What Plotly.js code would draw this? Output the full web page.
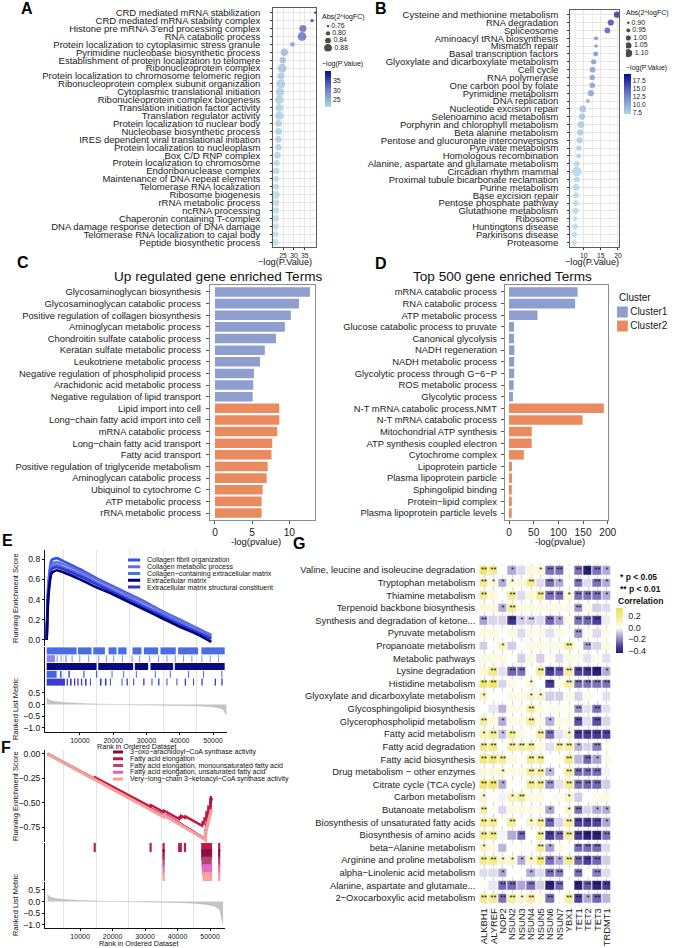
<!DOCTYPE html>
<html><head><meta charset="utf-8">
<script src="https://cdn.plot.ly/plotly-3.0.1.min.js"></script>
<style>body{margin:0;background:#fff}#chart{width:674px;height:948px}</style>
</head><body><div id="chart"></div>
<script>
// ---------------- Panel A data ----------------
const termsA = ['CRD mediated mRNA stabilization','CRD mediated mRNA stability complex','Histone pre mRNA 3’end processing complex','RNA catabolic process','Protein localization to cytoplasimic stress granule','Pyrimidine nucleobase biosynthetic process','Establishment of protein localization to telomere','Ribonucleoprotein complex','Protein localization to chromosome telomeric region','Ribonucleoprotein complex subunit organization','Cytoplasmic translational initiation','Ribonucleoprotein complex biogenesis','Translation initiation factor activity','Translation regulator activity','Protein localization to nuclear body','Nucleobase biosynthetic process','IRES dependent viral translational initiation','Protein localization to nucleoplasm','Box C/D RNP complex','Protein localization to chromosome','Endoribonuclease complex','Maintenance of DNA repeat elements','Telomerase RNA localization','Ribosome biogenesis','rRNA metabolic process','ncRNA processing','Chaperonin containing T-complex','DNA damage response detection of DNA damage','Telomerase RNA localization to cajal body','Peptide biosynthetic process'];
const logPA = [39.8,38.3,34.1,33.7,29.3,25.6,24.9,24.6,24.1,24.0,23.6,23.3,23.3,23.3,23.0,23.0,22.9,22.9,22.4,22.1,21.9,21.8,21.8,21.7,21.7,21.6,21.5,21.5,21.4,21.3];
const fcA = [0.74,0.76,0.84,0.88,0.79,0.85,0.83,0.88,0.84,0.88,0.86,0.87,0.85,0.87,0.84,0.84,0.83,0.83,0.84,0.82,0.83,0.82,0.83,0.86,0.84,0.83,0.84,0.83,0.82,0.84];
const sizeLegA = [0.76,0.80,0.84,0.88];
// ---------------- Panel B data ----------------
const termsB = ['Cysteine and methionine metabolism','RNA degradation','Spliceosome','Aminoacyl tRNA biosynthesis','Mismatch repair','Basal transcription factors','Glyoxylate and dicarboxylate metabolism','Cell cycle','RNA polymerase','One carbon pool by folate','Pyrimidine metabolism','DNA replication','Nucleotide excision repair','Selenoamino acid metabolism','Porphyrin and chlorophyll metabolism','Beta alanine metabolism','Pentose and glucuronate interconversions','Pyruvate metabolism','Homologous recombination','Alanine, aspartate and glutamate metabolism','Circadian rhythm mammal','Proximal tubule bicarbonate reclamation','Purine metabolism','Base excision repair','Pentose phosphate pathway','Glutathione metabolism','Ribosome','Huntingtons disease','Parkinsons disease','Proteasome'];
const logPB = [19.7,17.9,16.9,13.6,13.6,13.5,12.9,12.6,12.5,12.5,12.1,11.2,9.7,9.5,9.2,9.0,8.8,8.6,8.5,8.0,8.0,8.0,7.8,7.8,7.7,7.6,7.5,7.5,7.3,7.2];
const fcB = [1.0,1.0,0.98,0.92,0.90,0.95,0.96,0.98,0.97,0.98,1.0,0.92,1.02,1.0,1.02,1.0,1.0,0.97,0.95,0.98,1.12,0.98,1.02,0.98,0.98,1.0,0.93,0.98,0.96,0.96];
const sizeLegB = [0.90,0.95,1.00,1.05,1.10];
// ---------------- Panel C data ----------------
const termsC = ['Glycosaminoglycan biosynthesis','Glycosaminoglycan catabolic process','Positive regulation of collagen biosynthesis','Aminoglycan metabolic process','Chondroitin sulfate catabolic process','Keratan sulfate metabolic process','Leukotriene metabolic process','Negative regulation of phospholipid process','Arachidonic acid metabolic process','Negative regulation of lipid transport','Lipid import into cell','Long−chain fatty acid import into cell','mRNA catabolic process','Long−chain fatty acid transport','Fatty acid transport','Positive regulation of triglyceride metabolism','Aminoglycan catabolic process','Ubiquinol to cytochrome C','ATP metabolic process','rRNA metabolic process'];
const valuesC = [12.77,11.3,10.2,9.4,8.2,6.7,6.05,5.24,5.15,5.07,8.65,8.65,8.38,7.7,7.6,7.08,6.95,6.4,6.27,6.27];
const clusterC = ['Cluster1','Cluster1','Cluster1','Cluster1','Cluster1','Cluster1','Cluster1','Cluster1','Cluster1','Cluster1','Cluster2','Cluster2','Cluster2','Cluster2','Cluster2','Cluster2','Cluster2','Cluster2','Cluster2','Cluster2'];
// ---------------- Panel D data ----------------
const termsD = ['mRNA catabolic process','RNA catabolic process','ATP metabolic process','Glucose catabolic process to pruvate','Canonical glycolysis','NADH regeneration','NADH metabolic process','Glycolytic process through G−6−P','ROS metabolic process','Glycolytic process','N-T mRNA catabolic process,NMT','N-T mRNA catabolic process','Mitochondrial ATP synthesis','ATP synthesis coupled electron','Cytochrome complex','Lipoprotein particle','Plasma lipoprotein particle','Sphingolipid binding','Protein−lipid complex','Plasma lipoprotein particle levels'];
const valuesD = [139,134,57.7,10.2,10,10.9,10.5,10.5,9.5,8,192,149,46,46,30,6,6,5.7,5.7,5.5];
const clusterD = ['Cluster1','Cluster1','Cluster1','Cluster1','Cluster1','Cluster1','Cluster1','Cluster1','Cluster1','Cluster1','Cluster2','Cluster2','Cluster2','Cluster2','Cluster2','Cluster2','Cluster2','Cluster2','Cluster2','Cluster2'];
const clusters = ['Cluster1','Cluster2'];
// ---------------- Panel E data ----------------
const namesE = ['Collagen fibril organization','Collagen metabolic process','Collagen−containing extracellular matrix','Extracellular matrix','Extracellular matrix structural constituent'];
const rankE = [0,500,1500,3000,5000,10000,15000,20000,25000,30000,35000,40000,45000,49500];
const esE1 = [0.0,0.55,0.79,0.81,0.78,0.70,0.61,0.53,0.45,0.37,0.28,0.20,0.12,0.04];
const esE2 = [0.0,0.50,0.75,0.77,0.75,0.68,0.60,0.52,0.44,0.36,0.28,0.20,0.12,0.05];
const esE3 = [0.0,0.47,0.72,0.74,0.72,0.65,0.57,0.49,0.41,0.33,0.25,0.17,0.09,0.02];
const esE4 = [0.0,0.42,0.66,0.69,0.67,0.60,0.52,0.45,0.37,0.29,0.21,0.13,0.06,-0.02];
const esE5 = [0.0,0.45,0.70,0.72,0.70,0.63,0.55,0.47,0.39,0.31,0.23,0.15,0.08,0.01];
const hitsE1 = [[0,9000],[9400,13500],[14000,17500],[18600,21000],[21500,24000],[25800,28500],[29200,33500],[34200,38800],[39500,45500],[46500,53500]];
const hitsE2 = [[0,2500],[3000,3300],[4200,4500],[5600,6000],[7500,7800],[9800,10100],[12500,12800],[15500,15800],[17800,18100],[20000,20300],[22600,22900],[25500,25800],[27800,28100],[30800,31100],[33500,33800],[36000,36300],[38500,38800],[41000,41300],[43500,43800],[46500,46800],[49000,49300],[51500,51800]];
const hitsE3 = [[0,3000],[4000,4500],[6500,7000],[11000,11400],[14800,15200],[19500,19800],[23000,23300],[26800,27100],[32500,32800],[37000,37300],[42500,42800],[47000,47300],[52500,52800]];
const hitsE4 = [[0,15000],[15500,26000],[26500,30500],[31200,38000],[38500,53500]];
const hitsE5 = [[0,5500],[6000,6400],[7000,7500],[8200,8600],[9200,9600],[10300,10700],[11500,12000],[13000,13300],[16000,16500],[17500,18000],[19000,19300],[22500,22800],[24000,24400],[26000,26300],[29000,29400],[31500,31800],[33500,33900],[36000,36300],[39000,39300],[41500,41900],[44000,44300],[46500,46900],[50500,50900],[52500,52900]];
const metricRank = [0,300,1000,2500,5000,8000,12000,17000,25000,33000,40000,45000,49000,51500,53000,54000];
const metricE = [0.32,0.24,0.18,0.13,0.09,0.06,0.035,0.015,0.0,-0.015,-0.03,-0.05,-0.08,-0.13,-0.2,-0.45];
// ---------------- Panel F data ----------------
const namesF = ['3−oxo−arachidoyl−CoA synthase activity','Fatty acid elongation','Fatty acid elongation, monounsaturated fatty acid','Fatty acid elongation, unsaturated fatty acid','Very−long−chain 3−ketoacyl−CoA synthase activity'];
const rankF1 = [0,36500,36600,48600,48700,49500,50300,50500];
const esF1 = [0,-0.64,-0.625,-0.87,-0.77,-0.62,-0.47,-0.45];
const rankF2 = [0,14500,14600,31700,31800,35700,35800,40500,40600,41000,41100,42300,42400,47600,47700,48200,48300,48800,48900,49400,49500,50000,50100,50300];
const esF2 = [0,-0.262,-0.240,-0.540,-0.522,-0.594,-0.578,-0.665,-0.645,-0.652,-0.632,-0.654,-0.638,-0.735,-0.70,-0.71,-0.66,-0.67,-0.60,-0.61,-0.54,-0.55,-0.46,-0.43];
const rankF3 = [0,36500,36600,48600,48700,49500,50300];
const esF3 = [0,-0.645,-0.63,-0.875,-0.78,-0.65,-0.52];
const rankF4 = [0,36500,36600,48600,48700,49500,50300];
const esF4 = [0,-0.645,-0.63,-0.878,-0.79,-0.67,-0.55];
const rankF5 = [0,35700,35800,48600,48700,49300,49900,50400];
const esF5 = [0,-0.643,-0.628,-0.875,-0.80,-0.72,-0.64,-0.57];
const hitsF1 = [14500,31700,35700,40500,41000,42300,47600,47900,48200,48500,48800,49100,49400,49700,50000,50300,52800];
const hitsF2 = [35700,47600,48000,48400,48800,49200,49600,50000,50300,52800];
const hitsF3 = [35700,47700,48100,48600,49000,49400,49800,50200,52800];
const hitsF4 = [35700,47800,48300,48800,49300,49800,50300,52800];
const hitsF5 = [35700,48000,48600,49200,49800,50300,52800];
const metricF = [0.33,0.25,0.18,0.13,0.09,0.06,0.035,0.015,0.0,-0.02,-0.04,-0.07,-0.12,-0.2,-0.35,-1.0];
const rankTicks = [10000,20000,30000,40000,50000];
// ---------------- Panel G data ----------------
const rowsG = ['Valine, leucine and isoleucine degradation','Tryptophan metabolism','Thiamine metabolism','Terpenoid backbone biosynthesis','Synthesis and degradation of ketone...','Pyruvate metabolism','Propanoate metabolism','Metabolic pathways','Lysine degradation','Histidine metabolism','Glyoxylate and dicarboxylate metabolism','Glycosphingolipid biosynthesis','Glycerophospholipid metabolism','Fatty acid metabolism','Fatty acid degradation','Fatty acid biosynthesis','Drug metabolism − other enzymes','Citrate cycle (TCA cycle)','Carbon metabolism','Butanoate metabolism','Biosynthesis of unsaturated fatty acids','Biosynthesis of amino acids','beta−Alanine metabolism','Arginine and proline metabolism','alpha−Linolenic acid metabolism','Alanine, aspartate and glutamate...','2−Oxocarboxylic acid metabolism'];
const colsG = ['ALKBH1','ALYREF','NOP2','NSUN2','NSUN3','NSUN4','NSUN5','NSUN6','NSUN7','YBX1','TET1','TET2','TET3','TRDMT1'];
const corrG = [
 [0.28,0.18,0,-0.14,-0.06,0.06,0.06,-0.24,-0.24,0,-0.24,-0.43,-0.24,-0.14],
 [0.18,0.06,-0.14,0.06,0.06,0.18,-0.06,-0.24,-0.14,0,-0.24,-0.06,-0.24,-0.14],
 [0.18,0.06,0,0.18,-0.06,0.06,0.18,-0.24,-0.24,0.06,-0.24,-0.24,-0.24,-0.14],
 [0.06,0.06,-0.14,0.18,0.04,0.04,0.04,0.04,0.04,0.04,-0.17,0.04,-0.08,-0.06],
 [-0.16,-0.07,-0.07,-0.36,-0.08,-0.08,-0.06,-0.26,-0.16,0.04,-0.24,-0.26,-0.33,-0.03],
 [0.05,0.05,0.01,0.05,-0.06,0.04,0.04,-0.05,0.04,0.01,-0.18,0.03,-0.06,0.04],
 [-0.08,0.01,0.1,-0.08,0.01,0.04,0.04,0.04,0.04,0.16,0.01,-0.16,-0.07,0.05],
 [0.05,0.05,0.04,0.01,-0.08,0.04,-0.08,0.03,-0.06,0.04,0.03,-0.05,0.03,-0.05],
 [0.06,0.2,-0.05,-0.26,-0.24,0.01,0.17,-0.34,-0.28,0.15,-0.32,-0.35,-0.43,-0.14],
 [0.27,0.28,-0.07,0.04,0.01,0.06,0.01,-0.34,0.04,0.15,-0.24,-0.24,-0.24,-0.24],
 [0.1,0.01,0.0,0.04,0.04,0.08,0.08,-0.08,-0.08,0.04,-0.07,0.03,0.0,-0.05],
 [0.01,-0.04,-0.13,0.04,0.04,0.17,0.04,0.03,0.03,0.03,-0.18,-0.05,-0.24,-0.05],
 [0.16,0.05,-0.14,0.04,0.04,0.16,0.04,-0.13,0.04,0.04,-0.3,-0.05,-0.3,-0.07],
 [0.1,0.17,-0.1,0.16,0.04,0.01,0.17,-0.24,-0.05,0.08,-0.34,-0.34,-0.34,-0.32],
 [0.2,0.2,0.01,0.17,0.17,0.17,0.05,-0.05,0.16,0.16,-0.13,-0.07,-0.22,0.02],
 [0.22,0.22,0.18,0.05,0.01,0.17,0.17,0.0,0.01,0.18,-0.12,-0.26,-0.15,0.04],
 [0.06,0.06,0.08,0.05,0.05,0.15,0.15,-0.12,0.0,0.17,-0.25,-0.25,-0.25,-0.02],
 [0.26,0.28,-0.14,0.01,0.0,0.18,0.18,-0.18,-0.05,0.18,-0.24,-0.26,-0.26,-0.08],
 [0.08,0.01,-0.02,0.1,0.16,0.05,0.04,0.01,0.03,0.08,-0.08,0.0,0.04,0.05],
 [0.15,0.01,-0.07,0.05,0.05,0.04,0.04,-0.15,0.01,0.08,-0.24,-0.07,-0.14,-0.14],
 [0.18,0.18,0.01,0.16,0.0,0.08,0.17,-0.26,-0.07,0.16,-0.32,-0.34,-0.32,-0.15],
 [0.2,0.2,-0.02,-0.14,-0.26,0.0,0.17,-0.34,-0.26,0.17,-0.33,-0.42,-0.42,-0.24],
 [0.1,0.05,-0.12,0.01,0.0,0.01,0.17,-0.15,0.04,0.01,-0.25,-0.25,-0.25,-0.06],
 [0.2,0.2,0.08,0.08,-0.14,0.08,0.25,-0.24,-0.14,0.18,-0.26,-0.34,-0.26,-0.08],
 [-0.06,-0.06,-0.15,0.0,0.01,-0.14,-0.06,-0.24,-0.22,0.0,-0.24,0.01,-0.22,-0.06],
 [0.01,-0.04,-0.26,-0.26,-0.15,-0.24,-0.08,-0.42,-0.26,0.0,-0.42,-0.28,-0.42,-0.34],
 [0.18,0.18,-0.24,0.16,0.08,0.16,0.05,-0.24,0.01,0.16,-0.32,-0.14,-0.26,-0.12]
];
const sigG = [
 [2,2,0,1,0,0,1,2,2,0,2,2,2,1],
 [2,1,1,1,0,2,0,2,1,0,2,0,2,1],
 [2,0,0,2,0,0,2,2,2,1,2,2,2,1],
 [0,0,1,2,0,0,0,0,0,0,2,0,0,0],
 [2,0,0,2,1,2,0,2,1,0,2,2,2,0],
 [0,0,0,0,0,0,0,0,0,0,2,0,0,0],
 [0,0,1,0,0,0,0,0,0,2,0,2,0,0],
 [0,0,0,0,0,0,0,0,0,0,0,0,0,0],
 [0,2,0,2,2,0,2,2,2,2,2,2,2,1],
 [2,2,0,0,0,1,0,2,0,2,2,2,2,2],
 [1,0,0,0,0,1,1,0,0,0,0,0,0,0],
 [0,0,0,0,0,2,0,0,0,0,2,0,2,0],
 [2,0,1,0,0,2,0,1,0,0,2,0,2,0],
 [1,2,1,2,0,0,2,2,0,1,2,2,2,2],
 [2,2,0,2,2,2,0,0,2,2,1,0,2,0],
 [2,2,2,0,0,2,2,0,0,2,0,2,1,0],
 [0,0,1,0,0,2,2,1,0,2,2,2,2,0],
 [2,2,1,0,0,2,2,2,0,2,2,2,2,0],
 [1,0,0,1,2,0,0,0,0,1,0,0,0,0],
 [2,0,0,0,0,0,0,1,0,1,2,0,1,1],
 [2,2,0,2,0,1,2,2,0,2,2,2,2,1],
 [2,2,0,0,2,0,2,2,2,2,2,2,2,2],
 [1,0,0,0,0,0,2,1,0,0,2,2,2,0],
 [2,2,1,1,1,1,2,2,1,2,2,2,2,0],
 [0,0,1,0,0,1,0,2,2,0,2,0,2,0],
 [0,0,2,2,0,2,0,2,2,0,2,2,2,2],
 [2,2,2,2,1,2,0,2,0,2,2,1,2,0]
];

// ---------------- helpers ----------------
const FONT = 'Liberation Sans, Arial, Helvetica, sans-serif';
const W = 674, H = 948;
const px = v => v / W;
const py = v => 1 - v / H;
const dx = (a, b) => [px(a), px(b)];
const dy = (top, bot) => [py(bot), py(top)];
const blueScale = [[0,'#add8e6'],[0.5,'#6b7cc6'],[1,'#0a0a8f']];
const clusterColor = {Cluster1:'#8D9ECF', Cluster2:'#E98A5F'};
const sizeAf = v => 2.5 + (v - 0.74) * 45;
const sizeBf = v => 3 + (v - 0.88) * 27;
const traces = [];
const annotations = [];
function ann(text, x, y, o = {}) {
  annotations.push(Object.assign({text, x: px(x), y: py(y), xref:'paper', yref:'paper', showarrow:false,
    xanchor:'center', yanchor:'middle', font:{family:FONT, size:10, color:'#111'}}, o));
}
const catTicks = arr => ({tickmode:'array', tickvals: arr, ticktext: arr});

// ---------------- Panel A ----------------
traces.push({type:'scatter', mode:'markers', x: logPA, y: termsA, xaxis:'x', yaxis:'y', hoverinfo:'skip',
  marker:{size: fcA.map(sizeAf), color: logPA, colorscale: blueScale, showscale:true, line:{width:0},
    colorbar:{x:px(325), xanchor:'left', xpad:0, ypad:0, y:py(89), yanchor:'middle', len:36, lenmode:'pixels', thickness:6,
      outlinewidth:0, tickvals:[25,30,35], ticks:'', tickfont:{size:7, family:FONT, color:'#222'}}}});
traces.push({type:'scatter', mode:'markers+text', x: sizeLegA.map(() => 0), y: sizeLegA.map((_, i) => i),
  text: sizeLegA.map(v => v.toFixed(2)), textposition:'middle right', textfont:{size:7, family:FONT, color:'#222'},
  xaxis:'x12', yaxis:'y12', hoverinfo:'skip', marker:{size: sizeLegA.map(sizeAf), color:'#000'}});
// ---------------- Panel B ----------------
traces.push({type:'scatter', mode:'markers', x: logPB, y: logPB.map((_, i) => termsB[i]), xaxis:'x2', yaxis:'y2', hoverinfo:'skip',
  marker:{size: fcB.map(sizeBf), color: logPB, colorscale: blueScale, showscale:true, line:{width:0},
    colorbar:{x:px(624), xanchor:'left', xpad:0, ypad:0, y:py(94), yanchor:'middle', len:40, lenmode:'pixels', thickness:7,
      outlinewidth:0, tickvals:[7.5,10,12.5,15,17.5], ticktext:['7.5','10.0','12.5','15.0','17.5'], ticks:'',
      tickfont:{size:6.6, family:FONT, color:'#222'}}}});
traces.push({type:'scatter', mode:'markers+text', x: sizeLegB.map(() => 0), y: sizeLegB.map((_, i) => i),
  text: sizeLegB.map(v => v.toFixed(2)), textposition:'middle right', textfont:{size:7, family:FONT, color:'#222'},
  xaxis:'x13', yaxis:'y13', hoverinfo:'skip', marker:{size: sizeLegB.map(sizeBf), color:'#000'}});
// ---------------- Panel C & D ----------------
clusters.forEach(cl => {
  const iC = termsC.map((_, i) => i).filter(i => clusterC[i] === cl);
  traces.push({type:'bar', orientation:'h', x: iC.map(i => valuesC[i]), y: iC.map(i => termsC[i]), width:0.82,
    marker:{color: clusterColor[cl]}, xaxis:'x3', yaxis:'y3', hoverinfo:'skip'});
  const iD = termsD.map((_, i) => i).filter(i => clusterD[i] === cl);
  traces.push({type:'bar', orientation:'h', x: iD.map(i => valuesD[i]), y: iD.map(i => termsD[i]), width:0.82,
    marker:{color: clusterColor[cl]}, xaxis:'x4', yaxis:'y4', hoverinfo:'skip'});
});
traces.push({type:'scatter', mode:'markers+text', x: clusters.map(() => 0), y: clusters.map((_, i) => i),
  text: clusters, textposition:'middle right', textfont:{size:10, family:FONT, color:'#222'},
  marker:{symbol:'square', size:11, color: clusters.map(c => clusterColor[c])}, xaxis:'x16', yaxis:'y16', hoverinfo:'skip'});
// ---------------- Panel E ----------------
const colE = ['#2f55f0','#6c6ce0','#4575e6','#00007a','#3535cf'];
const esE = [esE1, esE2, esE3, esE4, esE5];
[0,1,2,4,3].forEach(k => traces.push({type:'scatter', mode:'lines', x: rankE, y: esE[k], xaxis:'x5', yaxis:'y5',
  line:{color: colE[k], width:2.6, shape:'spline', smoothing:0.6}, hoverinfo:'skip'}));
const hitsE = [hitsE1, hitsE2, hitsE4, hitsE3, hitsE5];
const hitColE = ['#4a6ce6','#8a8ae6','#0a0a80','#3f68e0','#3c3cd2'];
hitsE.forEach((iv, r) => {
  const x = [], y = [];
  iv.forEach(([a, b]) => { x.push(a, b, null); y.push(r, r, null); });
  traces.push({type:'scatter', mode:'lines', x, y, xaxis:'x6', yaxis:'y6', line:{color: hitColE[r], width:7}, hoverinfo:'skip'});
});
traces.push({type:'scatter', mode:'lines', x: metricRank, y: metricE, fill:'tozeroy', fillcolor:'#c4c4c4',
  line:{width:0.5, color:'#b5b5b5'}, xaxis:'x7', yaxis:'y7', hoverinfo:'skip'});
namesE.forEach((n, i) => {
  traces.push({type:'scatter', mode:'lines', x:[0, 1], y:[i, i], xaxis:'x14', yaxis:'y14', line:{color: colE[i], width:2.8}, hoverinfo:'skip'});
  annotations.push({text: n, x: 1.4, y: i, xref:'x14', yref:'y14', showarrow:false, xanchor:'left', yanchor:'middle',
    font:{family:FONT, size:7, color:'#111'}});
});
// ---------------- Panel F ----------------
const colF = ['#7e0f3a','#c7143f','#b4466f','#e15fc4','#f3a29a'];
const rkF = [rankF1, rankF2, rankF3, rankF4, rankF5];
const esF = [esF1, esF2, esF3, esF4, esF5];
[0,2,3,1,4].forEach(k => traces.push({type:'scatter', mode:'lines', x: rkF[k], y: esF[k], xaxis:'x8', yaxis:'y8',
  line:{color: colF[k], width: k === 4 ? 3.2 : 2.4}, hoverinfo:'skip'}));
const hitsF = [hitsF1, hitsF2, hitsF3, hitsF4, hitsF5];
const hitColF = ['#c8174a','#8a1040','#b4466f','#e36ac8','#f3a29a'];
hitsF.forEach((h, r) => traces.push({type:'scatter', mode:'markers', x: h, y: h.map(() => r), xaxis:'x9', yaxis:'y9',
  marker:{symbol:'line-ns-open', size:7.5, color: hitColF[r], line:{width:2.2, color: hitColF[r]}}, hoverinfo:'skip'}));
traces.push({type:'scatter', mode:'lines', x: metricRank, y: metricF, fill:'tozeroy', fillcolor:'#c4c4c4',
  line:{width:0.5, color:'#b5b5b5'}, xaxis:'x10', yaxis:'y10', hoverinfo:'skip'});
namesF.forEach((n, i) => {
  traces.push({type:'scatter', mode:'lines', x:[0, 1], y:[i, i], xaxis:'x15', yaxis:'y15', line:{color: colF[i], width:2.8}, hoverinfo:'skip'});
  annotations.push({text: n, x: 1.5, y: i, xref:'x15', yref:'y15', showarrow:false, xanchor:'left', yanchor:'middle',
    font:{family:FONT, size:7, color:'#111'}});
});
// ---------------- Panel G ----------------
traces.push({type:'heatmap', x: colsG, y: rowsG, z: corrG, xaxis:'x11', yaxis:'y11', xgap:1, ygap:4, zmin:-0.44, zmax:0.34,
  colorscale:[[0,'#221a70'],[0.14,'#4a3d9c'],[0.26,'#7f74bb'],[0.41,'#bcb6dc'],[0.564,'#ffffff'],[0.72,'#f6f0b0'],[1,'#ece24e']],
  hoverinfo:'skip',
  colorbar:{x:px(616), xanchor:'left', xpad:0, ypad:0, y:py(630.5), yanchor:'middle', len:45, lenmode:'pixels', thickness:7, outlinewidth:0,
    tickvals:[0.2,0,-0.2,-0.4], ticktext:['0.2','0.0','−0.2','−0.4'], ticks:'outside', ticklen:4, tickcolor:'rgba(0,0,0,0)',
    tickfont:{size:9, family:FONT, color:'#222'}}});
const sx = [], sy = [], st = [];
sigG.forEach((row, i) => row.forEach((s, j) => { if (s > 0) { sx.push(colsG[j]); sy.push(rowsG[i]); st.push('*'.repeat(s)); } }));
traces.push({type:'scatter', mode:'text', x: sx, y: sy, text: st, textposition:'middle center',
  textfont:{size:7.5, family:FONT, color:'#111'}, xaxis:'x11', yaxis:'y11', hoverinfo:'skip'});

// ---------------- layout ----------------
const lineAx = {showline:true, mirror:true, linecolor:'#333', linewidth:0.8, zeroline:false};
const barAx = {showline:true, mirror:true, linecolor:'#8c8c8c', linewidth:1.2, zeroline:false, showgrid:false};
const hide = {visible:false, fixedrange:true};
const gseaX = (dom, range, labels) => Object.assign({domain: dom, range, zeroline:false, showgrid:false,
  tickmode:'array', tickvals: rankTicks, ticktext: rankTicks.map(String), showticklabels: labels, ticks: labels ? 'outside' : '',
  ticklen:2, tickcolor:'#111', tickfont:{size:7, family:FONT, color:'#111'}, showline: labels, linecolor:'#111', linewidth:1,
  minor:{tickvals:[5000,15000,25000,35000,45000], showgrid:true, gridcolor:'#e3e3e3', gridwidth:1, ticks:''}});
const gseaY = (dom, range, o) => Object.assign({domain: dom, range, zeroline:false, showgrid:false, showline:true,
  linecolor:'#111', linewidth:1, ticks:'outside', ticklen:2, tickcolor:'#111', tickfont:{size:8.6, family:FONT, color:'#111'}}, o);

const layout = {
  width: W, height: H, margin:{l:0, r:0, t:0, b:0}, paper_bgcolor:'#fff', plot_bgcolor:'#fff',
  font:{family:FONT, color:'#222'}, showlegend:false,
  // A
  xaxis: Object.assign({domain: dx(273,316), anchor:'y', range:[20.4,40.1], tickvals:[25,30,35], ticks:'outside', ticklen:2,
    tickcolor:'#333', tickfont:{size:6.8}, showgrid:true, gridcolor:'#e6e6e6',
    minor:{tickvals:[22.5,27.5,32.5,37.5], showgrid:true, gridcolor:'#f0f0f0'}}, lineAx),
  yaxis: Object.assign({domain: dy(8,247), anchor:'x', type:'category', categoryorder:'array', categoryarray: termsA,
    range:[29.6,-0.6], ticks:'outside', ticklen:2, tickcolor:'#333', tickfont:{size:9.5, color:'#1a1a1a'},
    ticklabelstandoff:8, showgrid:true, gridcolor:'#e6e6e6'}, lineAx, catTicks(termsA)),
  // B
  xaxis2: Object.assign({domain: dx(570,619), anchor:'y2', range:[6.0,20.3], tickvals:[10,15,20], ticks:'outside', ticklen:2,
    tickcolor:'#333', tickfont:{size:6.8}, showgrid:true, gridcolor:'#e6e6e6',
    minor:{tickvals:[7.5,12.5,17.5], showgrid:true, gridcolor:'#f0f0f0'}}, lineAx),
  yaxis2: Object.assign({domain: dy(10,247), anchor:'x2', type:'category', categoryorder:'array', categoryarray: termsB,
    range:[29.6,-0.6], ticks:'outside', ticklen:2, tickcolor:'#333', tickfont:{size:9.5, color:'#1a1a1a'},
    ticklabelstandoff:7, showgrid:true, gridcolor:'#e6e6e6'}, lineAx, catTicks(termsB)),
  // C
  xaxis3: Object.assign({domain: dx(210,315), anchor:'y3', range:[-0.67,13.45], tickvals:[0,5,10], ticks:'outside', ticklen:3,
    tickcolor:'#555', tickfont:{size:10.2, color:'#222'}}, barAx),
  yaxis3: Object.assign({domain: dy(285,520), anchor:'x3', type:'category', categoryorder:'array', categoryarray: termsC,
    range:[19.6,-0.6], ticks:'outside', ticklen:3, tickcolor:'#555', tickfont:{size:9.4, color:'#222'}, ticklabelstandoff:3}, barAx, catTicks(termsC)),
  // D
  xaxis4: Object.assign({domain: dx(505,608), anchor:'y4', range:[-8.1,200.5], tickvals:[0,50,100,150,200], ticks:'outside', ticklen:3,
    tickcolor:'#555', tickfont:{size:10.2, color:'#222'}}, barAx),
  yaxis4: Object.assign({domain: dy(285,520), anchor:'x4', type:'category', categoryorder:'array', categoryarray: termsD,
    range:[19.6,-0.6], ticks:'outside', ticklen:3, tickcolor:'#555', tickfont:{size:9.4, color:'#222'}, ticklabelstandoff:2}, barAx, catTicks(termsD)),
  // E
  xaxis5: Object.assign(gseaX(dx(45,227), [-500,54200], false), {anchor:'y5'}),
  yaxis5: gseaY(dy(550,646), [-0.06,0.89], {anchor:'x5', tickvals:[0,0.2,0.4,0.6,0.8], tickformat:'.1f'}),
  xaxis6: Object.assign(gseaX(dx(45,227), [-500,54200], false), {anchor:'y6'}),
  yaxis6: gseaY(dy(647,686), [4.5,-0.5], {anchor:'x6', showticklabels:false, ticks:''}),
  xaxis7: Object.assign(gseaX(dx(45,227), [-500,54200], true), {anchor:'y7'}),
  yaxis7: gseaY(dy(686,732), [-1.18,0.8], {anchor:'x7', tickvals:[0.5,0,-0.5,-1], tickformat:'.1f'}),
  // F
  xaxis8: Object.assign(gseaX(dx(45,225), [-800,54600], false), {anchor:'y8'}),
  yaxis8: gseaY(dy(750,842), [-0.9,0.04], {anchor:'x8', tickvals:[0,-0.25,-0.5,-0.75], tickformat:'.2f'}),
  xaxis9: Object.assign(gseaX(dx(45,225), [-800,54600], false), {anchor:'y9'}),
  yaxis9: gseaY(dy(843,881), [4.5,-0.5], {anchor:'x9', showticklabels:false, ticks:''}),
  xaxis10: Object.assign(gseaX(dx(45,225), [-800,54600], true), {anchor:'y10'}),
  yaxis10: gseaY(dy(882,928), [-1.13,0.84], {anchor:'x10', tickvals:[0.5,0,-0.5,-1], tickformat:'.1f'}),
  // G
  xaxis11: Object.assign({domain: dx(479.3,611.7), anchor:'y11', type:'category', categoryorder:'array', categoryarray: colsG,
    range:[-0.5,13.5], tickangle:-90, ticks:'', tickfont:{size:9.4, color:'#222'}, showgrid:true, gridcolor:'#d8d8d8',
    zeroline:false, showline:false, ticklabelstandoff:1}, catTicks(colsG)),
  yaxis11: Object.assign({domain: dy(563.7,904.3), anchor:'x11', type:'category', categoryorder:'array', categoryarray: rowsG,
    range:[26.5,-0.5], ticks:'', tickfont:{size:9.4, color:'#222'}, showgrid:false, zeroline:false, showline:false, ticklabelstandoff:3}, catTicks(rowsG)),
  // legend helper axes
  xaxis12: Object.assign({domain: dx(324,360), anchor:'y12', range:[-1,8]}, hide),
  yaxis12: Object.assign({domain: dy(22.5,51.5), anchor:'x12', range:[3.5,-0.5]}, hide),
  xaxis13: Object.assign({domain: dx(626,665), anchor:'y13', range:[-0.5,8]}, hide),
  yaxis13: Object.assign({domain: dy(19,57), anchor:'x13', range:[4.5,-0.5]}, hide),
  xaxis14: Object.assign({domain: dx(128,250), anchor:'y14', range:[0,10]}, hide),
  yaxis14: Object.assign({domain: dy(556.6,590.4), anchor:'x14', range:[4.5,-0.5]}, hide),
  xaxis15: Object.assign({domain: dx(113,253), anchor:'y15', range:[0,14]}, hide),
  yaxis15: Object.assign({domain: dy(748.6,782.4), anchor:'x15', range:[4.5,-0.5]}, hide),
  xaxis16: Object.assign({domain: dx(617,670), anchor:'y16', range:[-0.5,4.5]}, hide),
  yaxis16: Object.assign({domain: dy(305,333), anchor:'x16', range:[1.5,-0.5]}, hide),
  annotations
};

// panel letters and titles
const L = {family:FONT, size:16, color:'#000'};
ann('<b>A</b>', 27, 8, {font:L});
ann('<b>B</b>', 381, 8, {font:L});
ann('<b>C</b>', 23, 262, {font:L});
ann('<b>D</b>', 381, 263, {font:L});
ann('<b>E</b>', 7, 540, {font:L});
ann('<b>F</b>', 6, 747, {font:L});
ann('<b>G</b>', 299, 543, {font:L});
ann('Up regulated gene enriched Terms', 218, 276, {font:{family:FONT, size:13.6, color:'#111'}});
ann('Top 500 gene enriched Terms', 502, 276, {font:{family:FONT, size:13.6, color:'#111'}});
ann('−log(P.Value)', 285, 262, {font:{family:FONT, size:9.2, color:'#111'}});
ann('−log(P.Value)', 592, 262, {font:{family:FONT, size:9.2, color:'#111'}});
ann('-log(pvalue)', 256, 541, {font:{family:FONT, size:9.5, color:'#111'}});
ann('-log(pvalue)', 560, 541, {font:{family:FONT, size:9.5, color:'#111'}});
ann('Abs(2^logFC)', 320, 17, {xanchor:'left', font:{family:FONT, size:7, color:'#111'}});
ann('−log(P.Value)', 320, 64, {xanchor:'left', font:{family:FONT, size:7, color:'#111'}});
ann('Abs(2^logFC)', 624, 13, {xanchor:'left', font:{family:FONT, size:7, color:'#111'}});
ann('−log(P.Value)', 624, 68, {xanchor:'left', font:{family:FONT, size:7, color:'#111'}});
ann('Cluster', 617, 297, {xanchor:'left', font:{family:FONT, size:10, color:'#111'}});
ann('Running Enrichment Score', 15, 598, {textangle:-90, font:{family:FONT, size:7.5, color:'#111'}});
ann('Ranked List Metric', 15, 709, {textangle:-90, font:{family:FONT, size:7.5, color:'#111'}});
ann('Rank in Ordered Dataset', 137, 746, {font:{family:FONT, size:7.2, color:'#111'}});
ann('Running Enrichment Score', 15, 796, {textangle:-90, font:{family:FONT, size:7.5, color:'#111'}});
ann('Ranked List Metric', 15, 905, {textangle:-90, font:{family:FONT, size:7.5, color:'#111'}});
ann('Rank in Ordered Dataset', 139, 943, {font:{family:FONT, size:7.2, color:'#111'}});
ann('<b>* p &lt; 0.05</b>', 618, 577, {xanchor:'left', font:{family:FONT, size:8.5, color:'#111'}});
ann('<b>** p &lt; 0.01</b>', 618, 589, {xanchor:'left', font:{family:FONT, size:8.5, color:'#111'}});
ann('<b>Correlation</b>', 616, 601, {xanchor:'left', font:{family:FONT, size:8.5, color:'#111'}});

Plotly.newPlot('chart', traces, layout, {staticPlot:true, displayModeBar:false});
</script>
</body></html>
